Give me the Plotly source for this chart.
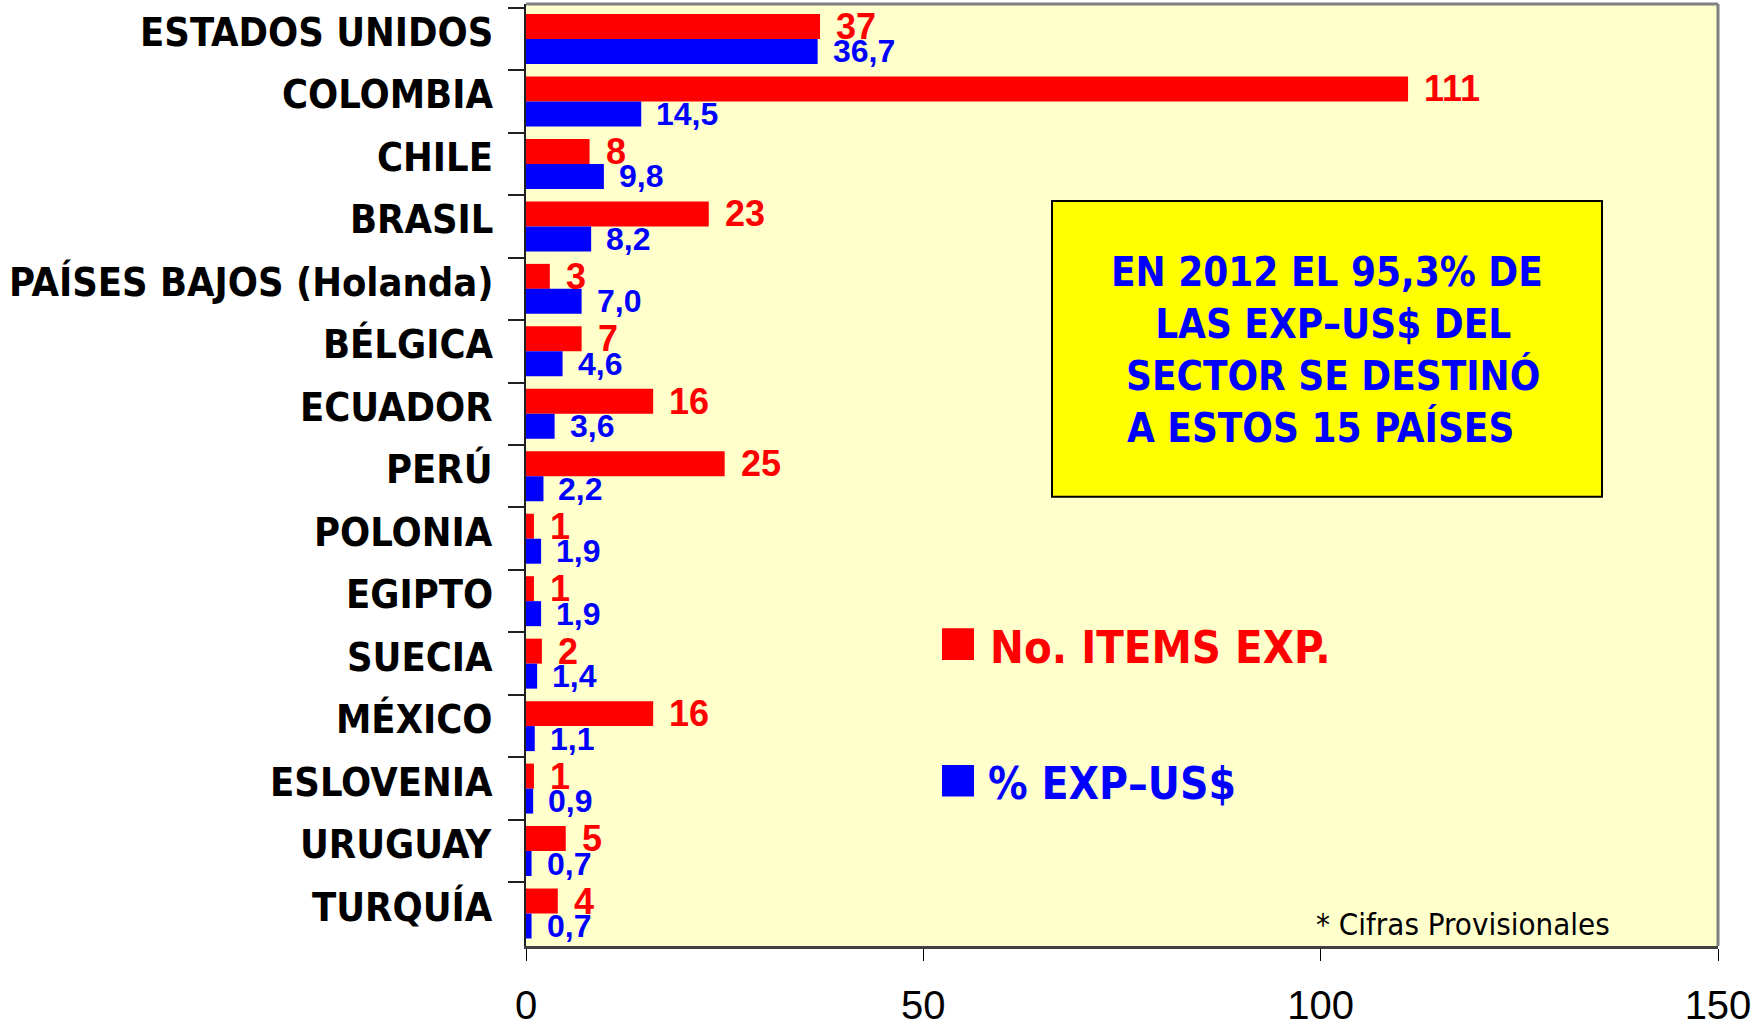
import plotly.graph_objects as go

# Destinos de exportación del sector (2012)
paises = [
    "ESTADOS UNIDOS", "COLOMBIA", "CHILE", "BRASIL", "PAÍSES BAJOS (Holanda)",
    "BÉLGICA", "ECUADOR", "PERÚ", "POLONIA", "EGIPTO", "SUECIA", "MÉXICO",
    "ESLOVENIA", "URUGUAY", "TURQUÍA",
]
items_exp = [37, 111, 8, 23, 3, 7, 16, 25, 1, 1, 2, 16, 1, 5, 4]
pct_exp_usd = [36.7, 14.5, 9.8, 8.2, 7.0, 4.6, 3.6, 2.2, 1.9, 1.9, 1.4, 1.1, 0.9, 0.7, 0.7]
x_ticks = [0, 50, 100, 150]

ROJO = "#FF0000"
AZUL = "#0000FF"
TAHOMA = "DejaVu Sans Condensed, DejaVu Sans, sans-serif"
ARIAL = "Liberation Sans, Arial, sans-serif"

fig = go.Figure()
fig.add_trace(go.Bar(y=paises, x=items_exp, orientation="h", name="No. ITEMS EXP.",
                     marker=dict(color=ROJO, line=dict(width=0))))
fig.add_trace(go.Bar(y=paises, x=pct_exp_usd, orientation="h", name="% EXP–US$",
                     marker=dict(color=AZUL, line=dict(width=0))))

annotations = []

# Etiquetas de los países (algo por encima del centro de cada franja)
for nombre in paises:
    annotations.append(dict(x=0, y=nombre, xref="paper", yref="y", text=f"<b>{nombre}</b>",
                            showarrow=False, xanchor="right", yanchor="middle",
                            xshift=-31, yshift=7,
                            font=dict(family=TAHOMA, size=39.5, color="#000000")))

# Valores de cada barra
for i, (n, p) in enumerate(zip(items_exp, pct_exp_usd)):
    annotations.append(dict(x=n, y=i - 0.2, xref="x", yref="y", text=f"<b>{n}</b>",
                            showarrow=False, xanchor="left", yanchor="middle", xshift=14,
                            font=dict(family=ARIAL, size=36, color=ROJO)))
    annotations.append(dict(x=p, y=i + 0.2, xref="x", yref="y",
                            text="<b>" + f"{p:.1f}".replace(".", ",") + "</b>",
                            showarrow=False, xanchor="left", yanchor="middle", xshift=13,
                            font=dict(family=ARIAL, size=32, color=AZUL)))

# Plot area geometry in pixels (for paper-referenced decorations)
L, R, T, B = 526, 1718, 4, 956
W, H = R - L, B - T


def px(xp):
    return (xp - L) / W


def py(yp):
    return (B - yp) / H


# Recuadro con la nota principal
annotations.append(dict(
    x=px(1327), y=py(354), xref="paper", yref="paper",
    text="<b>EN 2012 EL 95,3% DE<br> LAS EXP–US$ DEL<br> SECTOR SE DESTINÓ<br>A ESTOS 15 PAÍSES </b>",
    showarrow=False, xanchor="center", yanchor="middle", align="center",
    font=dict(family=TAHOMA, size=40, color=AZUL)))

# Leyenda manual
annotations.append(dict(x=px(988), y=py(654), xref="paper", yref="paper",
                        text="<b>No. ITEMS EXP.</b>", showarrow=False, xanchor="left",
                        yanchor="middle",
                        font=dict(family=TAHOMA, size=45, color=ROJO)))
annotations.append(dict(x=px(986), y=py(792), xref="paper", yref="paper",
                        text="<b>% EXP–US$</b>", showarrow=False, xanchor="left",
                        yanchor="middle",
                        font=dict(family=TAHOMA, size=44, color=AZUL)))
annotations.append(dict(x=px(1612), y=py(934), xref="paper", yref="paper",
                        text="* Cifras Provisionales", showarrow=False, xanchor="right",
                        yanchor="middle",
                        font=dict(family=TAHOMA, size=31, color="#000000")))

shapes = [
    # marco del área de trazado (superior y derecho)
    dict(type="line", xref="paper", yref="paper", x0=0, x1=1, y0=1, y1=1,
         line=dict(color="#808080", width=3)),
    dict(type="line", xref="paper", yref="paper", x0=1, x1=1, y0=0, y1=1,
         line=dict(color="#808080", width=3)),
    # recuadro amarillo
    dict(type="rect", xref="paper", yref="paper", x0=px(1052), x1=px(1602),
         y0=py(502), y1=py(203), fillcolor="#FFFF00", line=dict(color="#000000", width=2),
         layer="below"),
    # cuadros de la leyenda
    dict(type="rect", xref="paper", yref="paper", x0=px(942), x1=px(974),
         y0=py(667), y1=py(635), fillcolor=ROJO, line=dict(width=0)),
    dict(type="rect", xref="paper", yref="paper", x0=px(942), x1=px(974),
         y0=py(805), y1=py(773), fillcolor=AZUL, line=dict(width=0)),
]

fig.update_layout(
    width=1758, height=1031,
    margin=dict(l=L, r=1758 - R, t=T, b=1031 - B, pad=0),
    paper_bgcolor="#FFFFFF",
    plot_bgcolor="#FFFFCC",
    barmode="group",
    bargap=0.2,
    bargroupgap=0,
    showlegend=False,
    annotations=annotations,
    shapes=shapes,
    xaxis=dict(range=[0, 150], tickvals=x_ticks, ticktext=[str(v) for v in x_ticks],
               showgrid=False, zeroline=False, showline=True, linecolor="#404040",
               linewidth=3, ticks="outside", ticklen=12, tickwidth=1, tickcolor="#000000",
               tickfont=dict(family=ARIAL, size=40, color="#000000"),
               ticklabelstandoff=10, fixedrange=True),
    yaxis=dict(type="category", autorange="reversed", tickson="boundaries",
               showgrid=False, zeroline=False, showline=True, linecolor="#202020",
               linewidth=2, ticks="outside", ticklen=16, tickwidth=2, tickcolor="#202020",
               showticklabels=False, fixedrange=True),
)

fig.write_html("out.html")
